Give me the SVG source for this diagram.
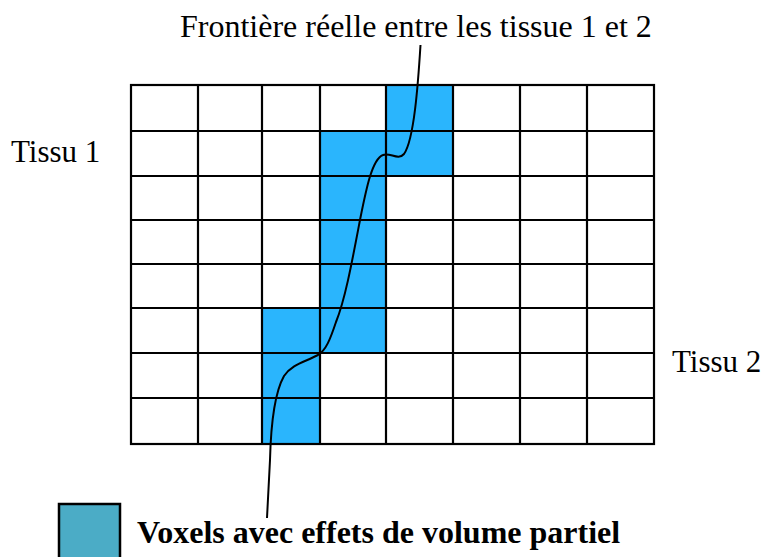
<svg xmlns="http://www.w3.org/2000/svg" width="767" height="557" viewBox="0 0 767 557">
<style>
.cell{fill:#2AB5FD;stroke:none}
.grid{stroke:#000;stroke-width:2.2;fill:none}
.t{font-family:"Liberation Serif","Times New Roman",serif;fill:#000}
</style>
<rect width="767" height="557" fill="#fff"/>
<g id="voxels">
<rect class="cell" x="386" y="85" width="67" height="91"/>
<rect class="cell" x="320" y="131" width="66" height="222"/>
<rect class="cell" x="262" y="308" width="58" height="136"/>
</g>
<g id="grid">
<rect class="grid" x="131" y="85" width="523" height="359"/>
<path class="grid" d="M198 85V444M262 85V444M320 85V444M386 85V444M453 85V444M520 85V444M587 85V444M131 131H654M131 176H654M131 220H654M131 264H654M131 308H654M131 353H654M131 398H654"/>
</g>
<g id="connectors">
<path d="M420.5 45 C418 85 414 140 404 154 C398 161 390 152 383 155 C372 159 366 190 360 220 C352 262 345 300 336 322 C330 340 326 350 318 355 C305 362 292 364 284 376 C275 392 271 420 270 460 L267 518" fill="none" stroke="#000" stroke-width="2"/>
</g>
<g id="labels">
<text class="t" x="180" y="36.5" font-size="32">Frontière réelle entre les tissue 1 et 2</text>
<text class="t" x="11" y="162" font-size="31">Tissu 1</text>
<text class="t" x="672" y="372" font-size="31">Tissu 2</text>
</g>
<g id="legend">
<rect x="59" y="504" width="61" height="57" fill="#4BACC6" stroke="#000" stroke-width="2.5"/>
<text class="t" x="137" y="543" font-size="32" font-weight="bold">Voxels avec effets de volume partiel</text>
</g>
</svg>
